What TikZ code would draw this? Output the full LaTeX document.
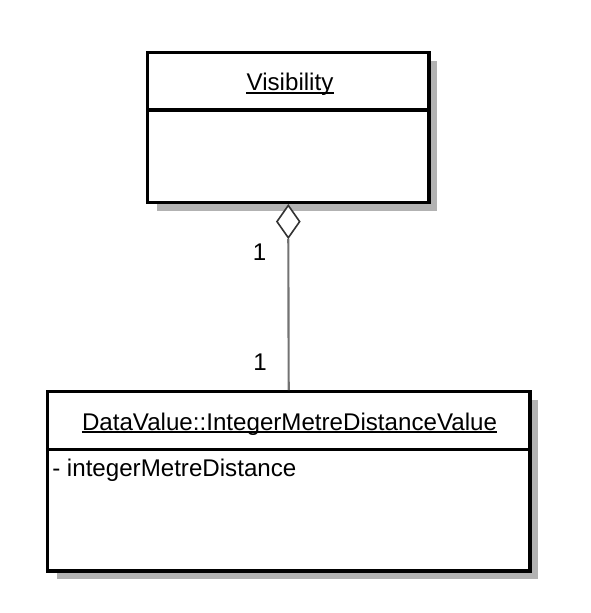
\documentclass[tikz,border=0pt]{standalone}
\usepackage{fontspec}
\setmainfont{Liberation Sans}
\usetikzlibrary{shapes.geometric,positioning}
\tikzset{
    classbox/.style={draw,line width=2.4pt,fill=white,inner sep=0pt},
    shadowcol/.style={fill=black!30,draw=none},
    divider/.style={line width=2.4pt},
    aggline/.style={draw=black!55,line width=1.6pt},
    titletext/.style={inner sep=0pt},
    underl/.style={line width=1.1pt},
}
\begin{document}
\begin{tikzpicture}[x=0.75pt,y=-0.75pt,font=\fontsize{18.1}{21}\selectfont]
    \useasboundingbox (0,0) rectangle (590,613);
    % shadows
    \fill[shadowcol] (157,61) rectangle (437,211);
    \fill[shadowcol] (57,400) rectangle (538,579);
    \draw[black!30,line width=1.2pt] (430,120) -- (437,120);
    \draw[black!30,line width=1.2pt] (531,459) -- (538,459);
    % classes
    \node[classbox,minimum width=211pt,minimum height=112.5pt] (vis) at (288.3,127.7) {};
    \draw[divider] ([yshift=-44.25pt]vis.north west) -- ([yshift=-44.25pt]vis.north east);
    \node[titletext,anchor=base] (vistitle) at (290,90.7) {Visibility};
    \draw[underl] ([yshift=-1.6pt]vistitle.base west) -- ([yshift=-1.6pt]vistitle.base east);
    \node[classbox,minimum width=362pt,minimum height=134.5pt] (dv) at (288.7,481.4) {};
    \draw[divider] ([yshift=-44.5pt]dv.north west) -- ([yshift=-44.5pt]dv.north east);
    \node[titletext,anchor=base] (dvtitle) at (289.5,430) {DataValue::IntegerMetreDistanceValue};
    \draw[underl] ([yshift=-1.6pt]dvtitle.base west) -- ([yshift=-1.6pt]dvtitle.base east);
    \node[anchor=base west,inner sep=0pt] (dvattr) at (52,476.7) {- integerMetreDistance};
    % aggregation
    \node[diamond,draw=black!80,line width=1.2pt,fill=white,inner sep=0pt,
          minimum width=17.5pt,minimum height=24.75pt,below=0pt of vis] (agg) {};
    \draw[aggline] (agg.south) -- (dv.north);
    \node (onetop) at (259.5,252.5) {1};
    \node (onebot) at (260,362.5) {1};
\end{tikzpicture}
\end{document}
